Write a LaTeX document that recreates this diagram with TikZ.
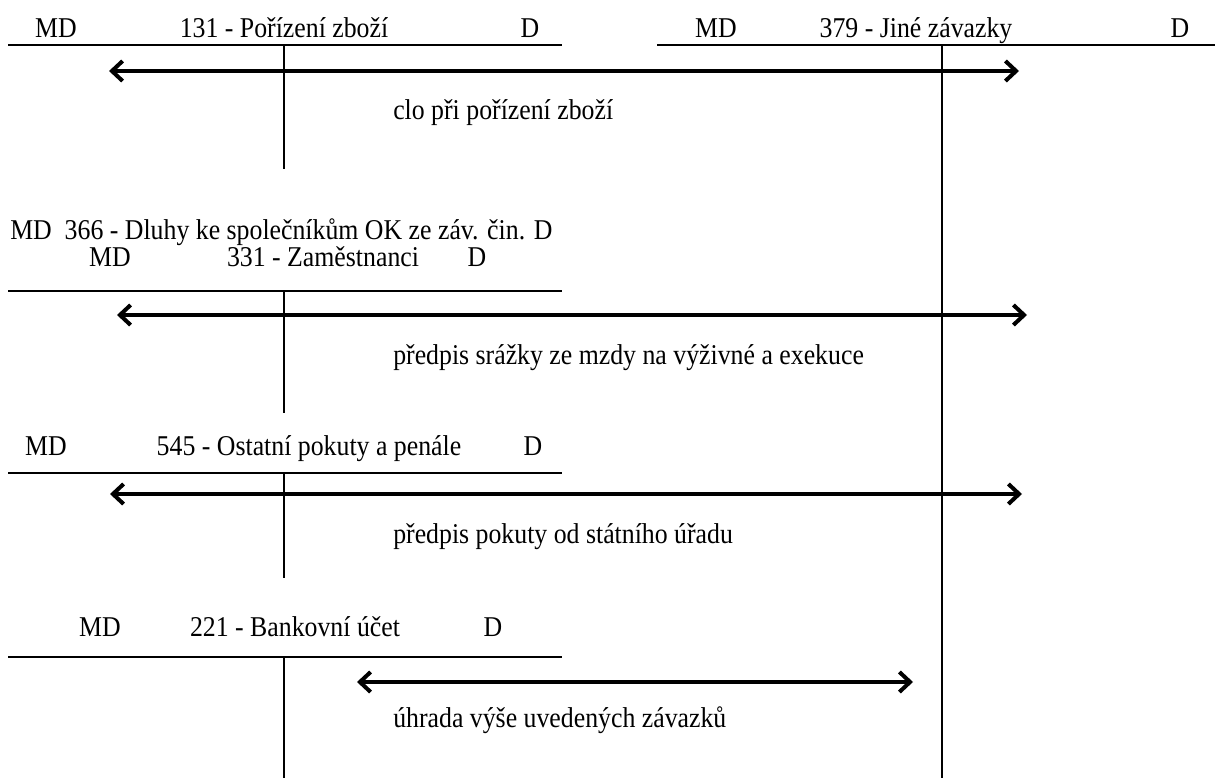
\documentclass[tikz,border=0pt]{standalone}
\usepackage{fontspec}
\setmainfont[FakeStretch=0.9]{Liberation Serif}
\usetikzlibrary{arrows.meta}
\begin{document}
\begin{tikzpicture}[x=0.75pt,y=-0.75pt,
  lbl/.style={anchor=base,inner sep=0pt,font=\fontsize{21.5}{24}\selectfont},
  lblw/.style={lbl,anchor=base west},
  acct/.style={line width=1.6pt},
  tline/.style={line width=2pt},
  flow/.style={line width=3pt,{Straight Barb[length=8pt,width=15pt]}-{Straight Barb[length=8pt,width=15pt]}}]
\useasboundingbox (0,0) rectangle (1215,778);
% account 131
\node[lbl] (md131) at (56,37) {MD};
\node[lbl] (t131) at (284,37) {131 - Pořízení zboží};
\node[lbl] (d131) at (530,37) {D};
\coordinate (h131a) at (8,45); \coordinate (h131b) at (562,45);
\coordinate (v131a) at (284,45); \coordinate (v131b) at (284,169);
\draw[acct] (h131a) -- (h131b);
\draw[tline] (v131a) -- (v131b);
% account 379
\node[lbl] (md379) at (716,37) {MD};
\node[lbl] (t379) at (916,37) {379 - Jiné závazky};
\node[lbl] (d379) at (1180,37) {D};
\coordinate (h379a) at (657,45); \coordinate (h379b) at (1215,45);
\coordinate (v379a) at (942,45); \coordinate (v379b) at (942,778);
\draw[acct] (h379a) -- (h379b);
\draw[tline] (v379a) -- (v379b);
% flow 1
\coordinate (f1a) at (109,71); \coordinate (f1b) at (1019,71);
\draw[flow] (f1a) -- (f1b);
\node[lblw] (l1) at (393,119) {clo při pořízení zboží};
% account 366 / 331
\node[lblw] (t366) at (10,239) {MD\ \ 366 - Dluhy ke společníkům OK ze záv. čin. D};
\node[lbl] (md331) at (110,266) {MD};
\node[lbl] (t331) at (323,266) {331 - Zaměstnanci};
\node[lbl] (d331) at (477,266) {D};
\coordinate (h331a) at (8,291); \coordinate (h331b) at (562,291);
\coordinate (v331a) at (284,291); \coordinate (v331b) at (284,413);
\draw[acct] (h331a) -- (h331b);
\draw[tline] (v331a) -- (v331b);
% flow 2
\coordinate (f2a) at (117,315); \coordinate (f2b) at (1027,315);
\draw[flow] (f2a) -- (f2b);
\node[lblw] (l2) at (393,364) {předpis srážky ze mzdy na výživné a exekuce};
% account 545
\node[lbl] (md545) at (46,455) {MD};
\node[lbl] (t545) at (309,455) {545 - Ostatní pokuty a penále};
\node[lbl] (d545) at (533,455) {D};
\coordinate (h545a) at (8,473); \coordinate (h545b) at (562,473);
\coordinate (v545a) at (284,473); \coordinate (v545b) at (284,578);
\draw[acct] (h545a) -- (h545b);
\draw[tline] (v545a) -- (v545b);
% flow 3
\coordinate (f3a) at (110,494); \coordinate (f3b) at (1022,494);
\draw[flow] (f3a) -- (f3b);
\node[lblw] (l3) at (393,543) {předpis pokuty od státního úřadu};
% account 221
\node[lbl] (md221) at (100,636) {MD};
\node[lbl] (t221) at (295,636) {221 - Bankovní účet};
\node[lbl] (d221) at (493,636) {D};
\coordinate (h221a) at (8,657); \coordinate (h221b) at (562,657);
\coordinate (v221a) at (284,657); \coordinate (v221b) at (284,778);
\draw[acct] (h221a) -- (h221b);
\draw[tline] (v221a) -- (v221b);
% flow 4
\coordinate (f4a) at (357,682); \coordinate (f4b) at (913,682);
\draw[flow] (f4a) -- (f4b);
\node[lblw] (l4) at (393,727) {úhrada výše uvedených závazků};
\end{tikzpicture}
\end{document}
